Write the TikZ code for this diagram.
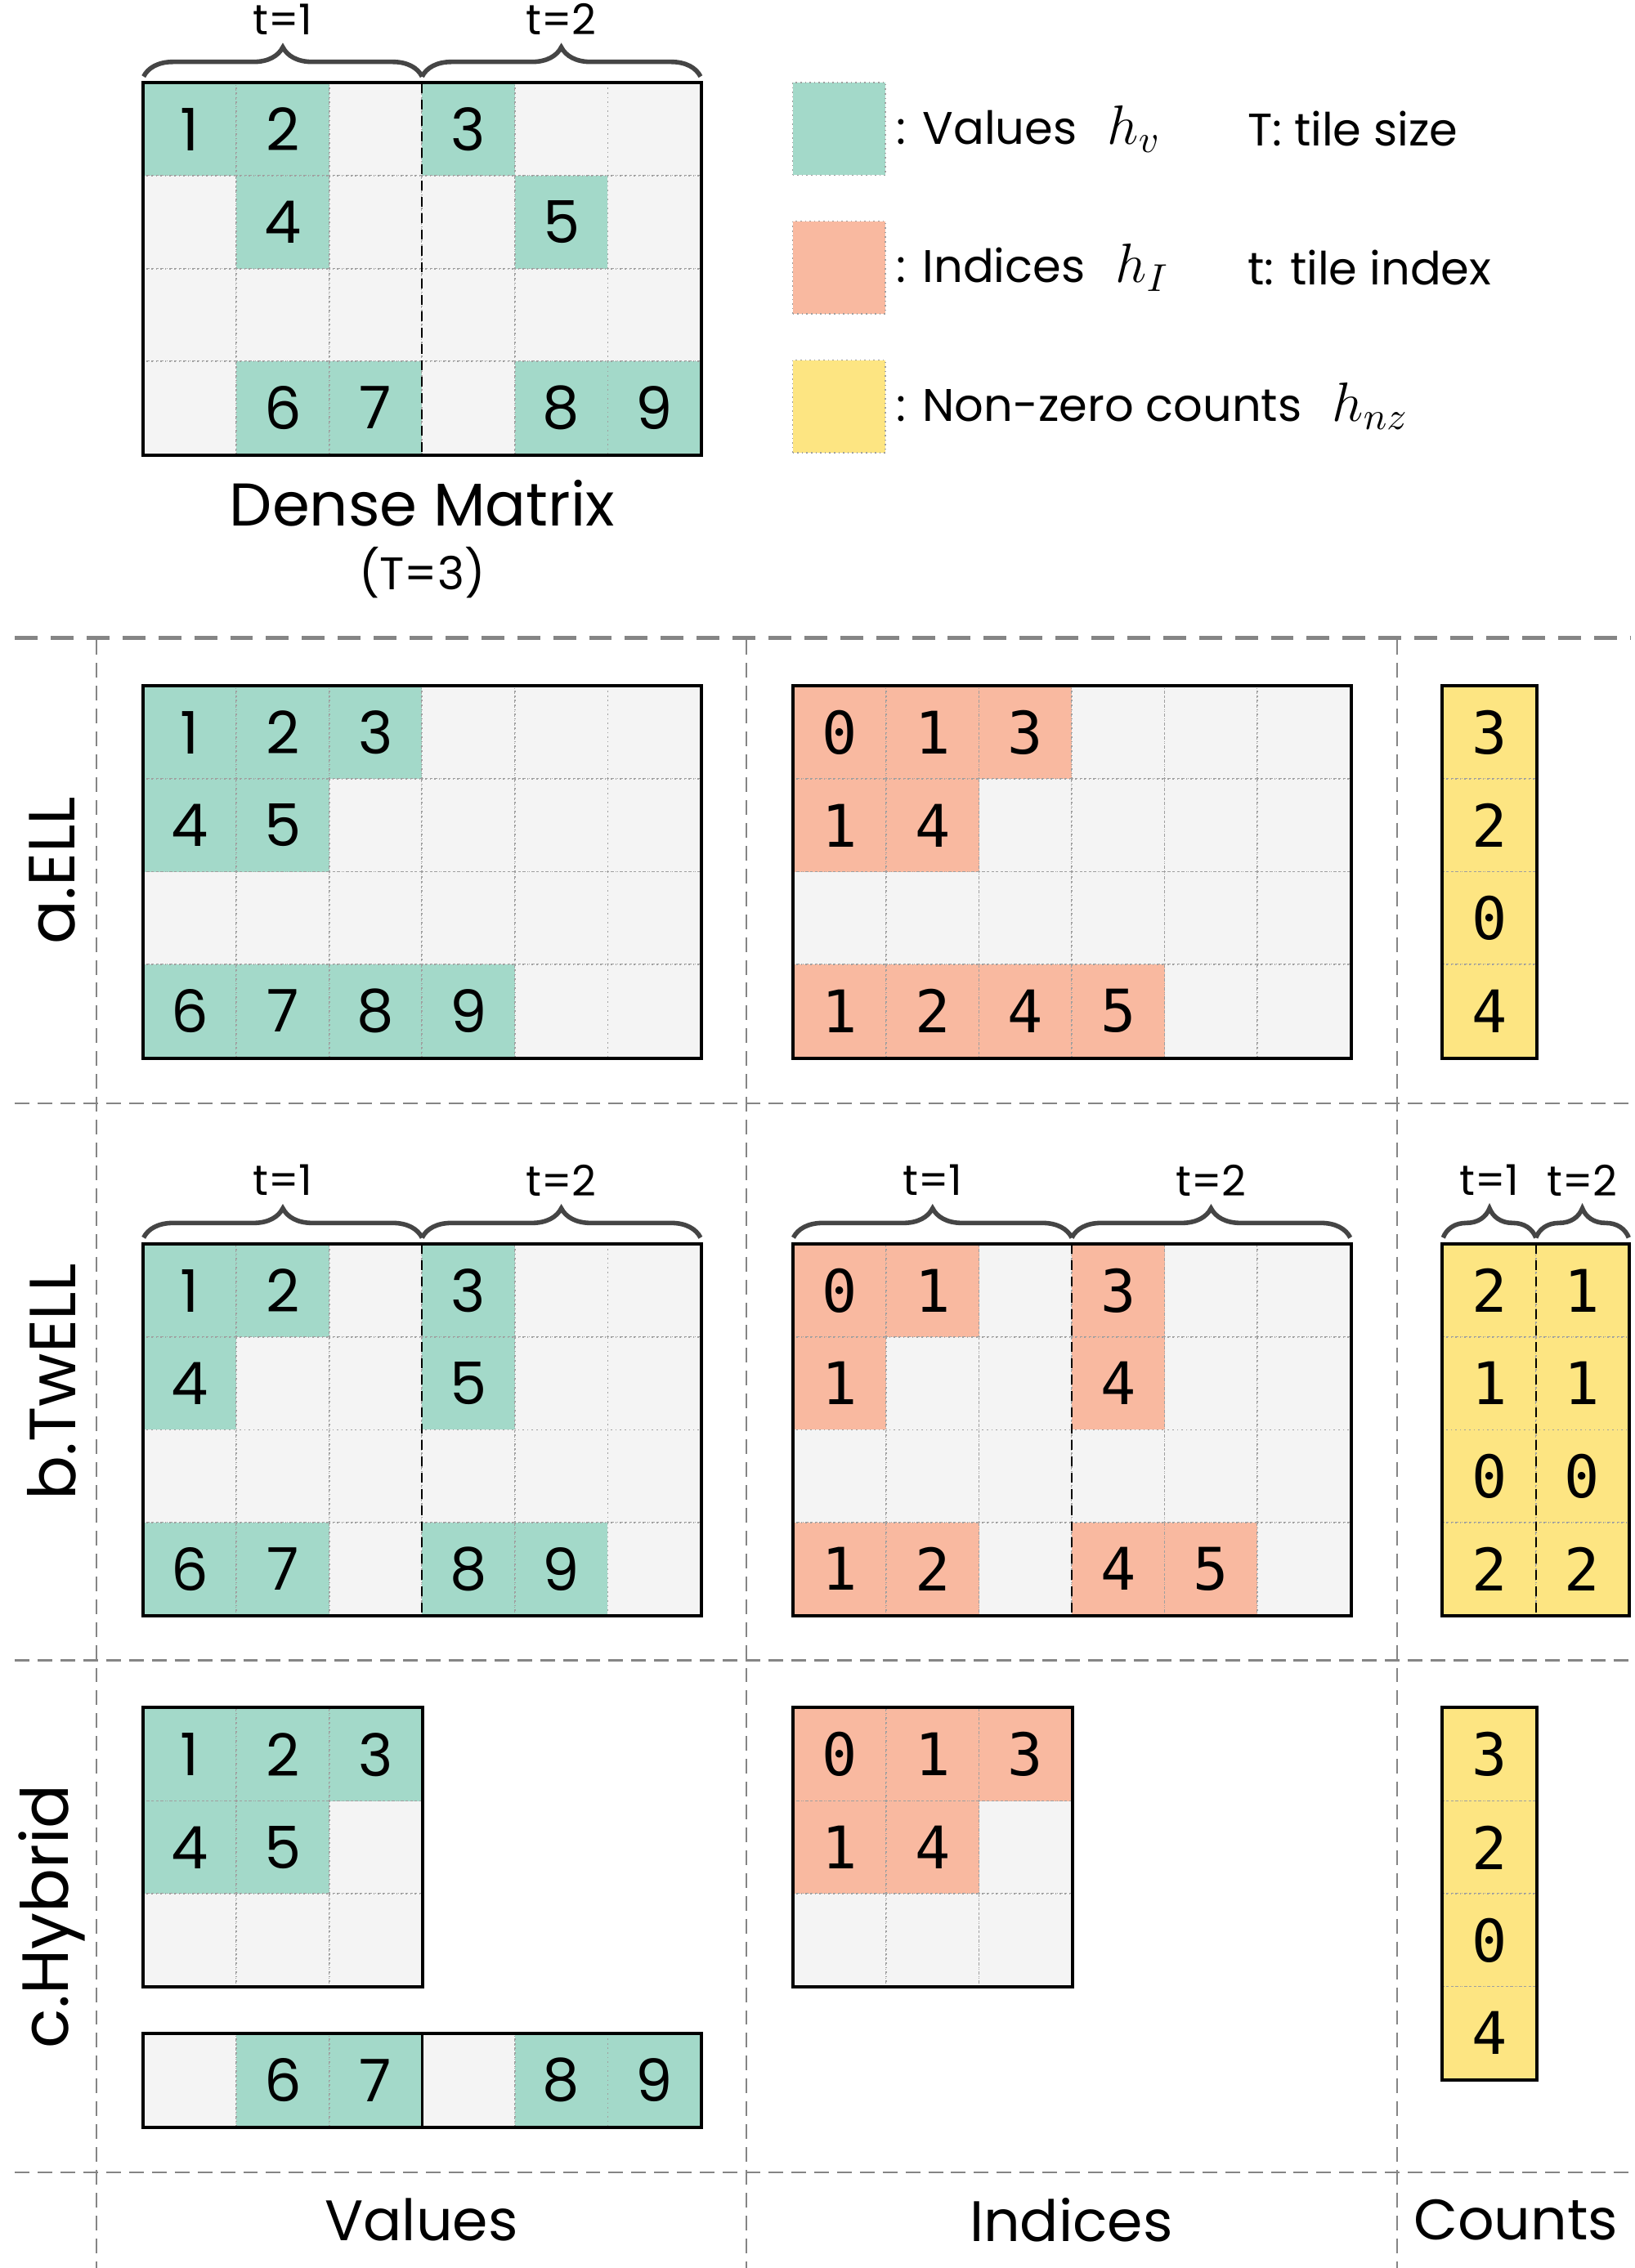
\RequirePackage{fix-cm}
\documentclass[tikz,border=0pt]{standalone}
\usepackage{amsmath}
\usepackage{fontspec}
\setmainfont{Poppins}
\newfontfamily\idxfont{DejaVu Sans Mono}
\usepackage{tikz}
\usetikzlibrary{positioning}
\usetikzlibrary{matrix}
\usetikzlibrary{decorations.pathreplacing}

\definecolor{valgreen}{HTML}{A3D9C9}
\definecolor{idxorange}{HTML}{F9B9A0}
\definecolor{cntyellow}{HTML}{FDE582}
\definecolor{emptycell}{HTML}{F4F4F4}
\definecolor{sepgray}{HTML}{858585}
\definecolor{bracegray}{HTML}{454545}

\newcommand\cellsize{\fontsize{18}{21}\selectfont}
\newcommand\legmath[1]{{\fontsize{17}{20}\selectfont\(#1\)}}

\begin{document}
\begin{tikzpicture}
[   x=1cm, y=1cm,
    font=\cellsize,
    inner sep=0pt,
    outer sep=0pt,
    cell/.style={anchor=center, minimum width=1cm, minimum height=1cm, draw=gray!75, densely dotted, line width=0.4pt, fill=emptycell},
    val/.style={fill=valgreen},
    idx/.style={fill=idxorange},
    cnt/.style={fill=cntyellow},
    grid/.style={matrix of nodes, nodes in empty cells, anchor=north west, column sep=-0.4pt, row sep=-0.4pt, nodes={cell}},
    mono/.style={nodes={font=\idxfont\cellsize}},
    frame/.style={draw=black, line width=1pt},
    tile/.style={draw=black, densely dashed, line width=0.6pt},
    tbrace/.style={decorate, decoration={brace, amplitude=9pt}, draw=bracegray, line width=1.4pt},
    tlabel/.style={font=\fontsize{13}{15}\selectfont},
    legtext/.style={anchor=west, font=\fontsize{14}{17}\selectfont},
    rowlabel/.style={rotate=90, font=\fontsize{20}{24}\selectfont},
    collabel/.style={font=\fontsize{17.5}{21}\selectfont},
    bigsep/.style={draw=sepgray, line width=1.3pt, dash pattern=on 7pt off 4pt},
    sep/.style={draw=sepgray, line width=0.6pt, dash pattern=on 4.5pt off 2.5pt}
]
\useasboundingbox (0,0) rectangle (17.61,-24.44);

% dense matrix and legend
\matrix (dense) [grid] at (1.54,-0.888) {
|[val]| 1 & |[val]| 2 &  & |[val]| 3 &  &  \\
 & |[val]| 4 &  &  & |[val]| 5 &  \\
 &  &  &  &  &  \\
 & |[val]| 6 & |[val]| 7 &  & |[val]| 8 & |[val]| 9 \\
};
\node (dname) at ([yshift=-0.52cm]dense.south) {\fontsize{18.5}{22}\selectfont Dense Matrix};
\node (dsize) at ([yshift=-0.75cm]dname.center) {\fontsize{14}{17}\selectfont (T=3)};

\node[cell, val, anchor=north west] (legv) at (8.54,-0.888) {};
\node[cell, idx, anchor=north west] (legi) at (8.54,-2.383) {};
\node[cell, cnt, anchor=north west] (legc) at (8.54,-3.880) {};
\node[legtext, right=0.12cm of legv] (legvt) {: Values\hspace{0.4em} \legmath{h_v}};
\node[legtext, right=0.12cm of legi] (legit) {: Indices\hspace{0.4em} \legmath{h_I}};
\node[legtext, right=0.12cm of legc] (legct) {: Non-zero counts\hspace{0.4em} \legmath{h_{nz}}};
\node[legtext, right=3.9cm of legv] (legts) {T: tile size};
\node[legtext, right=3.9cm of legi] (legti) {t: tile index};

% separators
\draw[bigsep] (0.16,-6.872) -- (17.56,-6.872);
\foreach \y in {11.89,17.89,23.41}
    \draw[sep] (0.16,-\y) -- (17.56,-\y);
\foreach \x in {1.04,8.04,15.05}
    \draw[sep] (\x,-6.9) -- (\x,-24.44);

% a. ELL
\matrix (ellv) [grid] at (1.54,-7.387) {
|[val]| 1 & |[val]| 2 & |[val]| 3 &  &  &  \\
|[val]| 4 & |[val]| 5 &  &  &  &  \\
 &  &  &  &  &  \\
|[val]| 6 & |[val]| 7 & |[val]| 8 & |[val]| 9 &  &  \\
};
\matrix (elli) [grid, mono] at (8.54,-7.387) {
|[idx]| 0 & |[idx]| 1 & |[idx]| 3 &  &  &  \\
|[idx]| 1 & |[idx]| 4 &  &  &  &  \\
 &  &  &  &  &  \\
|[idx]| 1 & |[idx]| 2 & |[idx]| 4 & |[idx]| 5 &  &  \\
};
\matrix (ellc) [grid, mono] at (15.54,-7.387) {
|[cnt]| 3 \\
|[cnt]| 2 \\
|[cnt]| 0 \\
|[cnt]| 4 \\
};

% b. TwELL
\matrix (twv) [grid] at (1.54,-13.40) {
|[val]| 1 & |[val]| 2 &  & |[val]| 3 &  &  \\
|[val]| 4 &  &  & |[val]| 5 &  &  \\
 &  &  &  &  &  \\
|[val]| 6 & |[val]| 7 &  & |[val]| 8 & |[val]| 9 &  \\
};
\matrix (twi) [grid, mono] at (8.54,-13.40) {
|[idx]| 0 & |[idx]| 1 &  & |[idx]| 3 &  &  \\
|[idx]| 1 &  &  & |[idx]| 4 &  &  \\
 &  &  &  &  &  \\
|[idx]| 1 & |[idx]| 2 &  & |[idx]| 4 & |[idx]| 5 &  \\
};
\matrix (twc) [grid, mono] at (15.54,-13.40) {
|[cnt]| 2 & |[cnt]| 1 \\
|[cnt]| 1 & |[cnt]| 1 \\
|[cnt]| 0 & |[cnt]| 0 \\
|[cnt]| 2 & |[cnt]| 2 \\
};

% c. Hybrid
\matrix (hybv) [grid] at (1.54,-18.40) {
|[val]| 1 & |[val]| 2 & |[val]| 3 \\
|[val]| 4 & |[val]| 5 &  \\
 &  &  \\
};
\matrix (hybr) [grid] at (1.54,-21.91) {
 & |[val]| 6 & |[val]| 7 &  & |[val]| 8 & |[val]| 9 \\
};
\matrix (hybi) [grid, mono] at (8.54,-18.40) {
|[idx]| 0 & |[idx]| 1 & |[idx]| 3 \\
|[idx]| 1 & |[idx]| 4 &  \\
 &  &  \\
};
\matrix (hybc) [grid, mono] at (15.54,-18.40) {
|[cnt]| 3 \\
|[cnt]| 2 \\
|[cnt]| 0 \\
|[cnt]| 4 \\
};

% frames, tiles, braces
\foreach \m in {dense,ellv,elli,ellc,twv,twi,twc,hybv,hybr,hybi,hybc}
    \draw[frame] (\m.north west) rectangle (\m.south east);
\foreach \m in {dense,twv,twi}{
    \draw[tile] (\m-1-3.north east) -- (\m-4-3.south east);
    \draw[tbrace] ([yshift=2pt]\m-1-1.north west) -- node[tlabel, yshift=0.62cm] (\m-t1) {t=1} ([yshift=2pt]\m-1-3.north east);
    \draw[tbrace] ([yshift=2pt]\m-1-4.north west) -- node[tlabel, yshift=0.62cm] (\m-t2) {t=2} ([yshift=2pt]\m-1-6.north east);
}
\draw[tile] (twc-1-1.north east) -- (twc-4-1.south east);
\draw[tbrace] ([yshift=2pt]twc-1-1.north west) -- node[tlabel, yshift=0.62cm] (twc-t1) {t=1} ([yshift=2pt]twc-1-1.north east);
\draw[tbrace] ([yshift=2pt]twc-1-2.north west) -- node[tlabel, yshift=0.62cm] (twc-t2) {t=2} ([yshift=2pt]twc-1-2.north east);
\draw[frame, line width=0.8pt] (hybr-1-3.north east) -- (hybr-1-3.south east);

% row and column labels
\node[rowlabel] (laba) at (0.56,-9.38) {a.ELL};
\node[rowlabel] (labb) at (0.56,-14.89) {b.TwELL};
\node[rowlabel] (labc) at (0.56,-20.65) {c.Hybrid};
\node[collabel] (colv) at (4.54,-23.92) {Values};
\node[collabel] (coli) at (11.54,-23.92) {Indices};
\node[collabel] (colc) at (16.33,-23.92) {Counts};
\end{tikzpicture}
\end{document}
